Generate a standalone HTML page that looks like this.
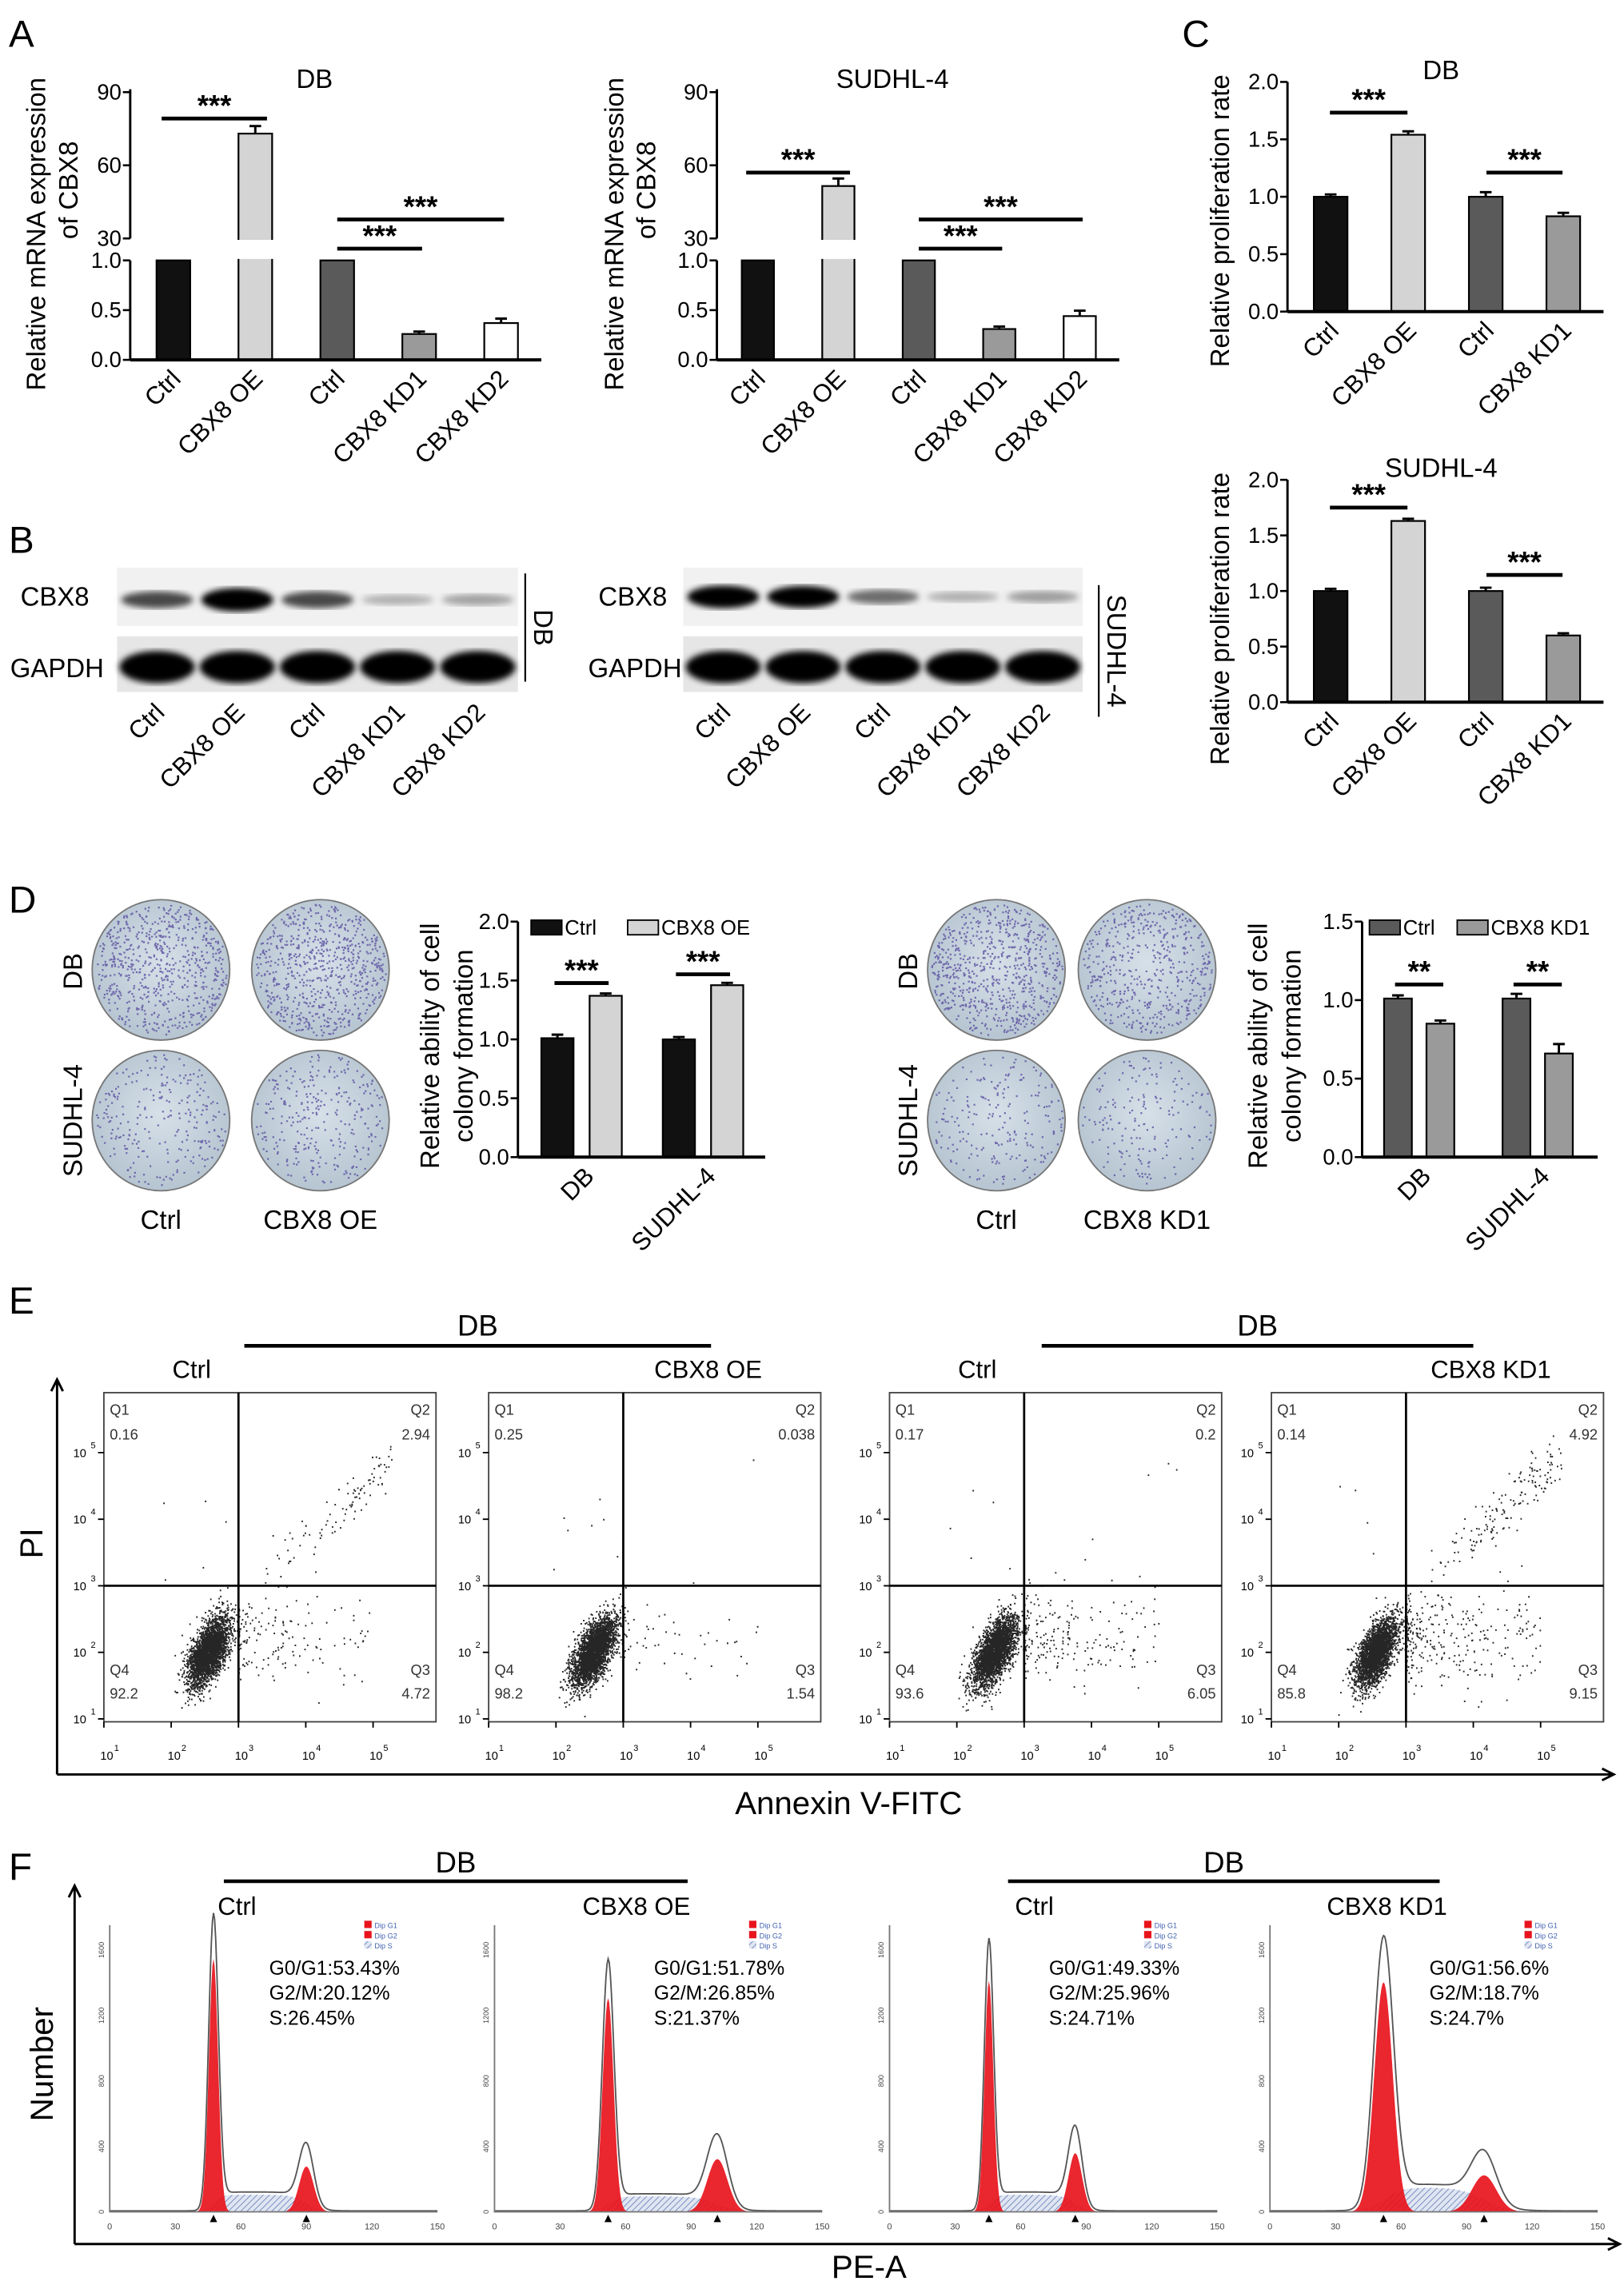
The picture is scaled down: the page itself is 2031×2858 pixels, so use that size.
<!DOCTYPE html>
<html><head><meta charset="utf-8"><title>CBX8 figure</title>
<style>
html,body{margin:0;padding:0;background:#fff;}
svg{display:block;font-family:"Liberation Sans",Arial,sans-serif;}
</style></head>
<body>
<svg id="fig" xmlns="http://www.w3.org/2000/svg" width="2031" height="2858" viewBox="0 0 1110 1562" preserveAspectRatio="none">
<defs>
<pattern id="hatch" patternUnits="userSpaceOnUse" width="3" height="3" patternTransform="rotate(45)">
<rect width="3" height="3" fill="#dfe6f2"/><line x1="0" y1="0" x2="0" y2="3" stroke="#5a6fb0" stroke-width="0.8"/>
</pattern>
<filter id="blur2"><feGaussianBlur stdDeviation="2.2"/></filter>
<radialGradient id="dish" cx="50%" cy="45%" r="60%"><stop offset="0" stop-color="#d6e0e8"/><stop offset="1" stop-color="#b3c2cf"/></radialGradient>
</defs>
<g id="labels" font-size="26">
<text x="6" y="32">A</text>
<text x="808" y="32">C</text>
<text x="6" y="378">B</text>
<text x="6" y="624">D</text>
<text x="6" y="898">E</text>
<text x="6" y="1285">F</text>
</g>
</svg>
<script>
// ---------- DATA ----------
const aCats=['Ctrl','CBX8 OE','Ctrl','CBX8 KD1','CBX8 KD2'];
const aDBVals=[1,73,1,0.26,0.37];
const aDBErr=[0,2.5,0,0.01,0.03];
const aSUVals=[1,51.5,1,0.31,0.44];
const aSUErr=[0,2.5,0,0.01,0.04];
const aTicksHigh=[30,60,90];
const aTicksLow=[0,0.5,1.0];
const cCats=['Ctrl','CBX8 OE','Ctrl','CBX8 KD1'];
const cDBVals=[1,1.54,1,0.83];
const cDBErr=[0.02,0.03,0.04,0.03];
const cSUVals=[1,1.63,1,0.6];
const cSUErr=[0.02,0.02,0.03,0.02];
const cTicks=[0,0.5,1.0,1.5,2.0];
const dGroups=['DB','SUDHL-4'];
const dOECtrl=[1.01,1.0];
const dOEVals=[1.37,1.46];
const dOECtrlErr=[0.03,0.02];
const dOEErr=[0.02,0.02];
const dOETicks=[0,0.5,1.0,1.5,2.0];
const dKDCtrl=[1.01,1.01];
const dKDVals=[0.85,0.66];
const dKDCtrlErr=[0.02,0.03];
const dKDErr=[0.02,0.06];
const dKDTicks=[0,0.5,1.0,1.5];
const eTitles=['Ctrl','CBX8 OE','Ctrl','CBX8 KD1'];
const eQ1=[0.16,0.25,0.17,0.14];
const eQ2=[2.94,0.038,0.20,4.92];
const eQ3=[4.72,1.54,6.05,9.15];
const eQ4=[92.2,98.2,93.6,85.8];
const fTitles=['Ctrl','CBX8 OE','Ctrl','CBX8 KD1'];
const fG1Pct=['53.43','51.78','49.33','56.6'];
const fG2Pct=['20.12','26.85','25.96','18.7'];
const fSPct=['26.45','21.37','24.71','24.7'];
const fG1Pos=[47.5,52,45.5,52];
const fG2Pos=[90,102,85,98];
const fG1Count=[1546,1305,1412,1403];
const fG2Count=[277,322,358,223];
const fSCount=[105,95,105,150];
const fG1Sd=[2.1,2.5,2.0,4.2];
const fG2Sd=[3.3,4.6,3.1,5.6];

// ---------- HELPERS ----------
const NS='http://www.w3.org/2000/svg';
const svg=document.getElementById('fig');
function mk(tag,a,parent){const e=document.createElementNS(NS,tag);for(const k in a)e.setAttribute(k,a[k]);(parent||svg).appendChild(e);return e;}
function tx(s,a,parent){const e=mk('text',a,parent);e.textContent=s;return e;}
let seed=12345;
function rnd(){seed|=0;seed=seed+0x6D2B79F5|0;let t=Math.imul(seed^seed>>>15,1|seed);t=t+Math.imul(t^t>>>7,61|t)^t;return((t^t>>>14)>>>0)/4294967296;}
function gauss(){let u=rnd()||1e-6,v=rnd();return Math.sqrt(-2*Math.log(u))*Math.cos(2*Math.PI*v);}

function rotLabel(s,x,y,size,parent){
  const t=tx(s,{x:x,y:y,'font-size':size,'text-anchor':'end',transform:`rotate(-45 ${x} ${y})`},parent);
  
  
  return t;
}
function sig(x1,x2,y,stars,parent){
  const l=mk('line',{x1:x1,x2:x2,y1:y,y2:y,stroke:'#000','stroke-width':2.6},parent);
  
  
  const t=tx(stars,{x:(x1+x2)/2,y:y-2,'font-size':20,'text-anchor':'middle','font-weight':'bold'},parent);
  
  
}
function barRect(x,w,yTop,yBase,fill,parent){
  const r=mk('rect',{x:x,y:yTop,width:w,height:Math.max(0,yBase-yTop),fill:fill,stroke:'#000','stroke-width':1.2},parent);
  
  
  return r;
}
function errBar(cx,yv,yerr,parent){
  const e=mk('path',{d:`M${cx} ${yv}V${yerr}M${cx-4} ${yerr}H${cx+4}`,stroke:'#000','stroke-width':1.6,fill:'none'},parent);
  
  
}
const fills5=['#111','#d4d4d4','#5a5a5a','#9a9a9a','#fff'];

// ---------- PANEL A ----------
function chartA(cfg,vals,errs){
  const g=mk('g',{});
  
  
  const ax=cfg.ax, base=246;
  const yA=v=> v<=1 ? base-v*68 : 163-(v-30)*50/30;
  const xB=i=>cfg.x0+i*cfg.step;
  const ya=mk('path',{d:`M${ax} 246V178M${ax} 163V61`,stroke:'#000','stroke-width':1.6,fill:'none'},g);
  
  
  aTicksLow.forEach(v=>{const y=yA(v);
    const t=mk('line',{x1:ax-5,x2:ax,y1:y,y2:y,stroke:'#000','stroke-width':1.4},g);
    
    
    const l=tx(v.toFixed(1),{x:ax-6,y:y+5,'font-size':15,'text-anchor':'end'},g);
    
    });
  aTicksHigh.forEach(v=>{const y=yA(v);
    const t=mk('line',{x1:ax-5,x2:ax,y1:y,y2:y,stroke:'#000','stroke-width':1.4},g);
    
    
    const l=tx(String(v),{x:ax-6,y:y+5,'font-size':15,'text-anchor':'end'},g);
    
    });
  vals.forEach((v,i)=>{
    const x=xB(i);
    barRect(x,cfg.w,yA(v),base,fills5[i],g);
    if(v>1){const gap=mk('rect',{x:x-2,y:164,width:cfg.w+4,height:13,fill:'#fff'},g);
      
      }
    if(errs[i]>0) errBar(x+cfg.w/2,yA(v),yA(v+errs[i])-1,g);
    rotLabel(aCats[i],x+cfg.w/2+6,base+14,17,g);
  });
  const xa=mk('line',{x1:ax,x2:cfg.end,y1:base,y2:base,stroke:'#000','stroke-width':2.2},g);
  
  
  const ti=tx(cfg.title,{x:cfg.tx,y:60,'font-size':18,'text-anchor':'middle'},g);
  
  
  const yl=tx('Relative mRNA expression',{x:0,y:0,'font-size':18,'text-anchor':'middle',transform:`translate(${cfg.ylx} 160) rotate(-90)`},g);
  
  
  const yl2=tx('of CBX8',{x:0,y:0,'font-size':18,'text-anchor':'middle',transform:`translate(${cfg.ylx+22} 130) rotate(-90)`},g);
  
  
  const c=i=>xB(i)+cfg.w/2;
  sig(c(0)-8,c(1)+8,cfg.sigTop,'***',g);
  sig(c(2),c(3)+2,170,'***',g);
  sig(c(2),c(4)+2,150,'***',g);
}
chartA({name:'chart-a-db',ax:89,x0:107,step:56,w:23,end:370,title:'DB',tx:215,ylx:31,sigTop:81},aDBVals,aDBErr);
chartA({name:'chart-a-sudhl4',ax:490,x0:507,step:55,w:22,end:765,title:'SUDHL-4',tx:610,ylx:426,sigTop:118},aSUVals,aSUErr);

// ---------- PANEL C ----------
function chartC(cfg,vals,errs){
  const g=mk('g',{});
  
  
  const ax=880,base=cfg.base,top=cfg.top;
  const yC=v=>base-v*(base-top)/2;
  const xB=i=>898+i*53;
  const ya=mk('line',{x1:ax,x2:ax,y1:base,y2:top,stroke:'#000','stroke-width':1.6},g);
  
  
  cTicks.forEach(v=>{const y=yC(v);
    const t=mk('line',{x1:ax-5,x2:ax,y1:y,y2:y,stroke:'#000','stroke-width':1.4},g);
    
    
    const l=tx(v.toFixed(1),{x:ax-6,y:y+5,'font-size':15,'text-anchor':'end'},g);
    
    });
  vals.forEach((v,i)=>{const x=xB(i);
    barRect(x,23,yC(v),base,fills5[i===3?3:i],g);
    errBar(x+11.5,yC(v),yC(v+errs[i]),g);
    rotLabel(cCats[i],x+18,base+14,17,g);});
  const xa=mk('line',{x1:ax,x2:1096,y1:base,y2:base,stroke:'#000','stroke-width':2.2},g);
  
  
  const ti=tx(cfg.title,{x:985,y:cfg.top-2,'font-size':18,'text-anchor':'middle'},g);
  
  
  const yl=tx('Relative proliferation rate',{x:0,y:0,'font-size':18,'text-anchor':'middle',transform:`translate(840 ${cfg.top+95}) rotate(-90)`},g);
  
  
  sig(909,962,cfg.s1,'***',g);
  sig(1016,1068,cfg.s2,'***',g);
}
chartC({name:'chart-c-db',base:213,top:56,title:'DB',s1:77,s2:118},cDBVals,cDBErr);
chartC({name:'chart-c-sudhl4',base:480,top:328,title:'SUDHL-4',s1:347,s2:393},cSUVals,cSUErr);

// ---------- PANEL B (blots) ----------
const bLanes=['Ctrl','CBX8 OE','Ctrl','CBX8 KD1','CBX8 KD2'];
const bCBX8DB=[0.55,1,0.55,0.12,0.18];
const bCBX8SU=[0.95,0.9,0.4,0.12,0.2];
function blot(cfg,intens){
  const g=mk('g',{});
  
  
  const w=cfg.x1-cfg.x0, lw=w/5;
  const b1=mk('rect',{x:cfg.x0,y:388,width:w,height:40,fill:'#f1f1f1'},g);
  
  
  const b2=mk('rect',{x:cfg.x0,y:435,width:w,height:38,fill:'#e6e6e6'},g);
  
  
  intens.forEach((v,i)=>{const cx=cfg.x0+lw*(i+0.5);
    const band=mk('ellipse',{cx:cx,cy:cfg.cy,rx:lw*0.45,ry:3+5*v,fill:'#000','fill-opacity':Math.min(1,0.15+v),filter:'url(#blur2)'},g);
    
    
    const gb=mk('ellipse',{cx:cx,cy:456,rx:lw*0.47,ry:11,fill:'#000',filter:'url(#blur2)'},g);
    
    
    rotLabel(bLanes[i],cx+6,488,17,g);});
  const t1=tx('CBX8',{x:cfg.lx1,y:414,'font-size':18},g);
  
  
  const t2=tx('GAPDH',{x:cfg.lx2,y:463,'font-size':18},g);
  
  
  const vl=mk('line',{x1:cfg.vx,x2:cfg.vx,y1:cfg.vy0,y2:cfg.vy1,stroke:'#000','stroke-width':1.2},g);
  
  
  const cl=tx(cfg.cell,{x:0,y:0,'font-size':18,'text-anchor':'middle',transform:`translate(${cfg.vx+6} ${(cfg.vy0+cfg.vy1)/2}) rotate(90)`},g);
  
  
}
blot({name:'blot-db',x0:80,x1:354,cy:410,lx1:14,lx2:7,vx:359,vy0:392,vy1:466,cell:'DB'},bCBX8DB);
blot({name:'blot-sudhl4',x0:467,x1:740,cy:408,lx1:409,lx2:402,vx:751,vy0:400,vy1:490,cell:'SUDHL-4'},bCBX8SU);

// ---------- PANEL D ----------
const dDishDensity=[[650,700],[260,300],[700,520],[220,180]];
function dish(cx,cy,n,parent){
  const c=mk('ellipse',{cx:cx,cy:cy,rx:47,ry:48,fill:'url(#dish)',stroke:'#777','stroke-width':1},parent);
  
  
  let d='';
  for(let k=0;k<n;k++){const a=rnd()*6.283,r=Math.sqrt(rnd())*45;
    d+=`M${(cx+r*Math.cos(a)).toFixed(1)} ${(cy+r*Math.sin(a)).toFixed(1)}h1.2`;}
  const p=mk('path',{d:d,stroke:'#5a4fa0','stroke-width':1.2,'stroke-opacity':0.8},parent);
  
  
}
function dishGroup(name,xs,labels,dens){
  const g=mk('g',{});
  
  
  dish(xs[0],663,dens[0][0],g);dish(xs[1],663,dens[0][1],g);
  dish(xs[0],766,dens[1][0],g);dish(xs[1],766,dens[1][1],g);
  const r1=tx('DB',{x:0,y:0,'font-size':18,'text-anchor':'middle',transform:`translate(${xs[0]-54} 664) rotate(-90)`},g);
  
  
  const r2=tx('SUDHL-4',{x:0,y:0,'font-size':18,'text-anchor':'middle',transform:`translate(${xs[0]-54} 766) rotate(-90)`},g);
  
  
  labels.forEach((s,i)=>{const t=tx(s,{x:xs[i],y:840,'font-size':18,'text-anchor':'middle'},g);
    
    });
  return g;
}
dishGroup('dishes-oe',[110,219],['Ctrl','CBX8 OE'],[dDishDensity[0],dDishDensity[1]]);
dishGroup('dishes-kd',[681,784],['Ctrl','CBX8 KD1'],[dDishDensity[2],dDishDensity[3]]);
function chartD(cfg,ctrl,trt,cErr,tErr,ticks){
  const g=mk('g',{});
  
  
  const ax=cfg.ax,base=791,top=630,max=ticks[ticks.length-1];
  const yD=v=>base-v*(base-top)/max;
  const ya=mk('line',{x1:ax,x2:ax,y1:base,y2:top,stroke:'#000','stroke-width':1.6},g);
  
  
  ticks.forEach(v=>{const y=yD(v);
    const t=mk('line',{x1:ax-5,x2:ax,y1:y,y2:y,stroke:'#000','stroke-width':1.4},g);
    
    
    const l=tx(v.toFixed(1),{x:ax-6,y:y+5,'font-size':15,'text-anchor':'end'},g);
    
    });
  dGroups.forEach((s,i)=>{const x=cfg.x0+i*cfg.step;
    barRect(x,cfg.w,yD(ctrl[i]),base,cfg.c1,g);
    errBar(x+cfg.w/2,yD(ctrl[i]),yD(ctrl[i]+cErr[i]),g);
    barRect(x+cfg.gap,cfg.w,yD(trt[i]),base,cfg.c2,g);
    errBar(x+cfg.gap+cfg.w/2,yD(trt[i]),yD(trt[i]+tErr[i]),g);
    rotLabel(s,x+cfg.gap+4,base+14,17,g);
    sig(x+cfg.w/2-2,x+cfg.gap+cfg.w/2+2,cfg.sy[i],cfg.stars,g);});
  const xa=mk('line',{x1:ax,x2:cfg.end,y1:base,y2:base,stroke:'#000','stroke-width':2.2},g);
  
  
  const lb1=mk('rect',{x:cfg.lx[0],y:629,width:21,height:10,fill:cfg.c1,stroke:'#000'},g);
  
  
  const lt1=tx('Ctrl',{x:cfg.lx[0]+23,y:639,'font-size':14},g);
  
  
  const lb2=mk('rect',{x:cfg.lx[1],y:629,width:21,height:10,fill:cfg.c2,stroke:'#000'},g);
  
  
  const lt2=tx(cfg.leg,{x:cfg.lx[1]+23,y:639,'font-size':14},g);
  
  
  const yl=tx('Relative ability of cell',{x:0,y:0,'font-size':18,'text-anchor':'middle',transform:`translate(${cfg.ylx} 715) rotate(-90)`},g);
  
  
  const yl2=tx('colony formation',{x:0,y:0,'font-size':18,'text-anchor':'middle',transform:`translate(${cfg.ylx+23} 715) rotate(-90)`},g);
  
  
}
chartD({name:'chart-d-oe',ax:354,x0:370,step:83,w:22,gap:33,end:523,c1:'#111',c2:'#d4d4d4',lx:[363,429],leg:'CBX8 OE',ylx:300,sy:[672,666],stars:'***'},dOECtrl,dOEVals,dOECtrlErr,dOEErr,dOETicks);
chartD({name:'chart-d-kd',ax:931,x0:946,step:81,w:19,gap:29,end:1092,c1:'#5a5a5a',c2:'#9a9a9a',lx:[936,996],leg:'CBX8 KD1',ylx:866,sy:[673,673],stars:'**'},dKDCtrl,dKDVals,dKDCtrlErr,dKDErr,dKDTicks);

// ---------- PANEL E ----------
const eLeft=[71,334,608,869];
function groupHeader(x1,x2,yLine,yText,parent){
  const l=mk('line',{x1:x1,x2:x2,y1:yLine,y2:yLine,stroke:'#000','stroke-width':2.5},parent);
  
  
  const t=tx('DB',{x:(x1+x2)/2,y:yText,'font-size':20,'text-anchor':'middle'},parent);
  
  
}
groupHeader(167,486,920,913);
groupHeader(712,1007,920,913);
function axesArrow(x0,yTop,yBot,xEnd,name){
  const p=mk('path',{d:`M${x0} ${yBot}V${yTop}M${x0-4} ${yTop+8}L${x0} ${yTop}L${x0+4} ${yTop+8}M${x0} ${yBot}H${xEnd}M${xEnd-8} ${yBot-4}L${xEnd} ${yBot}L${xEnd-8} ${yBot+4}`,stroke:'#000','stroke-width':1.6,fill:'none'});
  
  
}
axesArrow(39,943,1213,1103,'annexin-axes');
const pi=tx('PI',{x:0,y:0,'font-size':22,'text-anchor':'middle',transform:'translate(29 1055) rotate(-90)'});


const an=tx('Annexin V-FITC',{x:580,y:1240,'font-size':22,'text-anchor':'middle'});


eTitles.forEach((s,i)=>{
  const L=eLeft[i],W=227,T=952,B=1177;
  const g=mk('g',{});
  
  
  const xL=l=>L+(l-1)*46, yL=l=>1175-(l-1)*45.5;
  const t=tx(s,{x:L+(i%2?150:60),y:942,'font-size':17,'text-anchor':'middle'},g);
  
  
  const box=mk('rect',{x:L,y:T,width:W,height:B-T,fill:'none',stroke:'#444','stroke-width':1},g);
  
  
  const N=3200;let d='';
  const add=(lx,ly)=>{const px=xL(lx),py=yL(ly);if(px>L+1&&px<L+W-1&&py>T+1&&py<B-1)d+=`M${px.toFixed(1)} ${py.toFixed(1)}h1`;};
  for(let k=0;k<Math.round(N*eQ4[i]/100);k++){const u=gauss(),v=gauss(),w=gauss();add(2.55+0.12*u+0.1*v,2.0+0.2*u+0.16*w);}
  for(let k=0;k<Math.round(N*eQ3[i]/100);k++){add(3+Math.pow(rnd(),2)*2.0,2.2+0.35*gauss());}
  for(let k=0;k<Math.round(N*eQ2[i]/100);k++){const lx=3.2+Math.pow(rnd(),0.6)*2.1;add(lx,3.1+(lx-3.2)*0.85+0.2*gauss());}
  for(let k=0;k<Math.round(N*eQ1[i]/100);k++){add(1.8+rnd()*1.2,3.05+rnd()*1.5);}
  const dots=mk('path',{d:d,stroke:'#000','stroke-width':1.1,'stroke-opacity':0.85},g);
  
  
  const q=mk('path',{d:`M${xL(3)} ${T}V${B}M${L} ${yL(3)}H${L+W}`,stroke:'#000','stroke-width':1.5},g);
  
  
  const ql=[['Q1',L+4,967,'start'],[String(eQ1[i]),L+4,984,'start'],['Q2',L+W-4,967,'end'],[String(eQ2[i]),L+W-4,984,'end'],
            ['Q4',L+4,1145,'start'],[String(eQ4[i]),L+4,1161,'start'],['Q3',L+W-4,1145,'end'],[String(eQ3[i]),L+W-4,1161,'end']];
  ql.forEach(a=>{const e=tx(a[0],{x:a[1],y:a[2],'font-size':10,'text-anchor':a[3],fill:'#333'},g);
    
    });
  for(let p=1;p<=5;p++){
    const yl=tx('10',{x:L-12,y:yL(p)+3,'font-size':8,'text-anchor':'end'},g);
    
    
    const ys=tx(String(p),{x:L-9,y:yL(p)-3,'font-size':6},g);
    
    
    const xl=tx('10',{x:xL(p)+2,y:1203,'font-size':8,'text-anchor':'middle'},g);
    
    
    const xs=tx(String(p),{x:xL(p)+7,y:1197,'font-size':6},g);
    
    
    const tk=mk('path',{d:`M${L-4} ${yL(p)}H${L}M${xL(p)} ${B}V${B+4}`,stroke:'#000','stroke-width':1},g);
    
    
  }
});

// ---------- PANEL F ----------
const fAx=[75,338,608,868];
groupHeader(153,470,1286,1280);
groupHeader(689,984,1286,1280);
axesArrow(51,1289,1534,1107,'pe-axes');
const nb=tx('Number',{x:0,y:0,'font-size':22,'text-anchor':'middle',transform:'translate(36 1411) rotate(-90)'});


const pe=tx('PE-A',{x:594,y:1557,'font-size':22,'text-anchor':'middle'});


const fTitleX=[162,435,707,948];
fTitles.forEach((s,i)=>{
  const A=fAx[i],base=1512;
  const xH=v=>A+v*224/150, yH=c=>base-c*179/1600;
  const g=mk('g',{});
  
  
  const t=tx(s,{x:fTitleX[i],y:1309,'font-size':17,'text-anchor':'middle'},g);
  
  
  const G=(v,m,sd,h)=>h*Math.exp(-0.5*((v-m)/sd)**2);
  const sig_=z=>1/(1+Math.exp(-z));
  const S=v=>fSCount[i]*sig_((v-fG1Pos[i])/fG1Sd[i])*sig_((fG2Pos[i]-v)/fG2Sd[i]);
  const area=f=>{let d=`M${xH(0)} ${base}`;for(let v=0;v<=150;v+=0.5)d+=`L${xH(v).toFixed(2)} ${yH(f(v)).toFixed(2)}`;return d+`L${xH(150)} ${base}Z`;};
  const sA=mk('path',{d:area(S),fill:'url(#hatch)'},g);
  
  
  const g1=mk('path',{d:area(v=>G(v,fG1Pos[i],fG1Sd[i],fG1Count[i])),fill:'#e8141c','fill-opacity':0.92},g);
  
  
  const g2=mk('path',{d:area(v=>G(v,fG2Pos[i],fG2Sd[i],fG2Count[i])),fill:'#e8141c','fill-opacity':0.92},g);
  
  
  let od='';for(let v=0;v<=150;v+=0.5){const c=G(v,fG1Pos[i],fG1Sd[i]*1.05,fG1Count[i]*1.14)+G(v,fG2Pos[i],fG2Sd[i],fG2Count[i]*1.3)+S(v)*1.1+6;od+=(v?'L':'M')+xH(v).toFixed(2)+' '+yH(c).toFixed(2);}
  const ol=mk('path',{d:od,fill:'none',stroke:'#555','stroke-width':1},g);
  
  
  const ax=mk('path',{d:`M${A} 1316V${base}H${A+224}`,stroke:'#777','stroke-width':1,fill:'none'},g);
  
  
  for(let v=0;v<=150;v+=30){
    const xt=tx(String(v),{x:xH(v),y:1524,'font-size':6,'text-anchor':'middle',fill:'#444'},g);
    
    }
  for(let c=0;c<=1600;c+=400){
    const yt=tx(String(c),{x:0,y:0,'font-size':5,'text-anchor':'middle',fill:'#444',transform:`translate(${A-4} ${yH(c)}) rotate(-90)`},g);
    
    }
  [fG1Pos[i],fG2Pos[i]].forEach(v=>{const m=mk('path',{d:`M${xH(v)-2.5} 1519L${xH(v)} 1514L${xH(v)+2.5} 1519Z`,fill:'#000'},g);
    
    });
  const lines=['G0/G1:'+fG1Pct[i]+'%','G2/M:'+fG2Pct[i]+'%','S:'+fSPct[i]+'%'];
  lines.forEach((s2,k)=>{const e=tx(s2,{x:A+109,y:1350+k*17,'font-size':13.5},g);
    
    });
  ['Dip G1','Dip G2','Dip S'].forEach((s3,k)=>{
    const r=mk('rect',{x:A+174,y:1313+k*7,width:5,height:5,fill:k<2?'#e8141c':'url(#hatch)'},g);
    
    
    const lt=tx(s3,{x:A+181,y:1318+k*7,'font-size':5,fill:'#4060b0'},g);
    
    });
});
</script>
</body></html>
